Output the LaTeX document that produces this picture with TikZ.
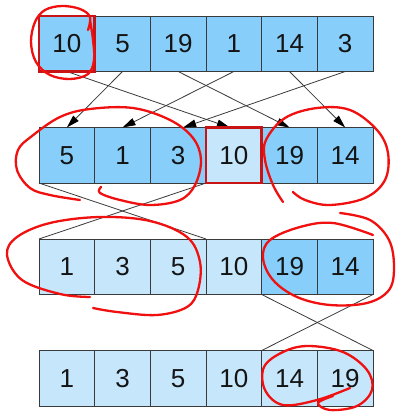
\documentclass[tikz,border=0pt]{standalone}
\usepackage{fontspec}
\setmainfont{Liberation Sans}
\usetikzlibrary{arrows.meta}
\definecolor{darkcell}{HTML}{87CEFA}
\definecolor{lightcell}{HTML}{C6E6FC}
\definecolor{edgegray}{HTML}{3A3A3A}
\definecolor{hired}{HTML}{C81414}
\definecolor{scribred}{HTML}{F01010}
\tikzset{
  cell/.style={draw=edgegray, line width=0.9pt, minimum width=55.67pt, minimum height=55.5pt,
    inner sep=0pt, outer sep=0pt, font=\fontsize{26}{26}\selectfont, text=black!92},
  dcell/.style={cell, fill=darkcell},
  lcell/.style={cell, fill=lightcell},
  link/.style={draw=edgegray, line width=0.8pt},
  arrowlink/.style={link, -{Triangle[length=13pt,width=7.5pt,color=black]}},
  hibox/.style={draw=hired, line width=2.6pt},
  scrib/.style={draw=scribred, line width=2.3pt, line cap=round, line join=round},
}
\begin{document}
\begin{tikzpicture}[x=1pt,y=-1pt]
\useasboundingbox (0,0) rectangle (396,412);
\foreach \v [count=\i] in {10,5,19,1,14,3}
  \node[dcell] (r1c\i) at ({66.83+55.67*(\i-1)},43.75) {\v};
\foreach \v/\s [count=\i] in {5/dcell,1/dcell,3/dcell,10/lcell,19/dcell,14/dcell}
  \node[\s] (r2c\i) at ({66.83+55.67*(\i-1)},155.25) {\v};
\foreach \v/\s [count=\i] in {1/lcell,3/lcell,5/lcell,10/lcell,19/dcell,14/dcell}
  \node[\s] (r3c\i) at ({66.83+55.67*(\i-1)},266.75) {\v};
\foreach \v [count=\i] in {1,3,5,10,14,19}
  \node[lcell] (r4c\i) at ({66.83+55.67*(\i-1)},378.25) {\v};
% arrows row 1 -> row 2
\draw[arrowlink] (r1c1.south) -- ([xshift=-4pt]r2c4.north);
\draw[arrowlink] (r1c2.south) -- (r2c1.north);
\draw[arrowlink] (r1c3.south) -- (r2c5.north);
\draw[arrowlink] (r1c4.south) -- (r2c2.north);
\draw[arrowlink] (r1c5.south) -- (r2c6.north);
\draw[arrowlink] (r1c6.south) -- ([xshift=5pt]r2c3.north);
% row 2 -> row 3
\draw[link] (r2c1.south west) -- (r3c4.north west);
\draw[link] (r2c4.south west) -- (r3c1.north west);
% row 3 -> row 4
\draw[link] (r3c5.south west) -- (r4c6.north east);
\draw[link] (r3c6.south east) -- (r4c5.north west);
% highlighted cells
\draw[hibox] (r1c1.south west) rectangle (r1c1.north east);
\draw[hibox] (r2c4.south west) rectangle (r2c4.north east);
% hand-drawn red marks
\draw[scrib] plot[smooth, tension=0.6] coordinates {(88,30) (90,17) (80,9) (62,6) (45,10) (35,22) (31,42) (36,62) (50,75) (70,79) (88,74) (94,60) (93,40) (90,20)};
\draw[scrib] plot[smooth, tension=0.6] coordinates {(80,200) (50,195) (30,188) (17,170) (18,150) (32,136) (60,117) (90,109) (133,108) (170,120) (193,138) (201,160) (195,185) (180,200) (150,205) (120,200) (100,193) (101,187)};
\draw[scrib] plot[smooth, tension=0.6] coordinates {(283,202) (273,185) (265,160) (266,140) (285,118) (317,108) (350,110) (377,130) (388,153) (385,180) (365,198) (330,205) (305,200) (293,192)};
\draw[scrib] plot[smooth, tension=0.6] coordinates {(90,297) (60,294) (22,280) (7,255) (17,237) (50,223) (100,217) (150,221) (187,237) (200,262) (198,290) (187,307) (157,315) (117,312) (93,308)};
\draw[scrib] plot[smooth, tension=0.6] coordinates {(373,235) (333,223) (300,227) (270,240) (263,258) (273,280) (297,297) (330,305) (367,303) (389,290) (394,267) (389,240) (370,220) (340,213)};
\draw[scrib] plot[smooth, tension=0.6] coordinates {(350,388) (317,400) (283,405) (265,390) (264,367) (283,352) (308,346) (343,352) (367,370) (372,390) (357,406) (330,410) (318,403) (333,396)};
\end{tikzpicture}
\end{document}
